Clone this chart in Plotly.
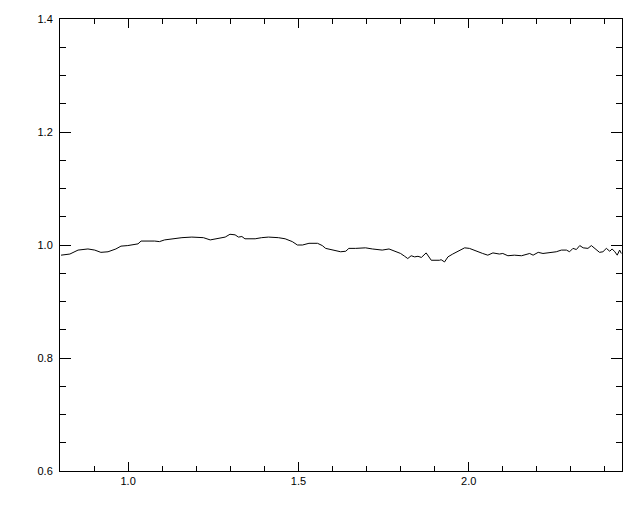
import plotly.graph_objects as go

x_vals = [0.803, 0.829, 0.853, 0.882, 0.902, 0.920, 0.941, 0.964, 0.979, 0.999,
          1.029, 1.038, 1.078, 1.092, 1.107, 1.131, 1.158, 1.187, 1.221, 1.241,
          1.260, 1.285, 1.299, 1.314, 1.324, 1.334, 1.343, 1.373, 1.392, 1.412,
          1.441, 1.461, 1.482, 1.497, 1.512, 1.531, 1.556, 1.570, 1.580, 1.604,
          1.624, 1.639, 1.648, 1.668, 1.697, 1.717, 1.746, 1.766, 1.785, 1.800,
          1.812, 1.821, 1.831, 1.841, 1.851, 1.861, 1.875, 1.883, 1.890, 1.914,
          1.919, 1.929, 1.939, 1.953, 1.973, 1.988, 2.002, 2.022, 2.041, 2.056,
          2.071, 2.090, 2.100, 2.115, 2.134, 2.155, 2.179, 2.189, 2.204, 2.218,
          2.238, 2.257, 2.272, 2.287, 2.296, 2.306, 2.316, 2.326, 2.336, 2.350,
          2.360, 2.375, 2.384, 2.394, 2.404, 2.414, 2.421, 2.429, 2.436, 2.443,
          2.448]
y_vals = [0.982, 0.984, 0.991, 0.993, 0.991, 0.987, 0.988, 0.993, 0.998, 0.999,
          1.002, 1.007, 1.007, 1.006, 1.009, 1.011, 1.013, 1.014, 1.013, 1.009,
          1.011, 1.014, 1.019, 1.018, 1.014, 1.015, 1.011, 1.011, 1.013, 1.014,
          1.013, 1.011, 1.006, 1.000, 1.000, 1.003, 1.003, 0.999, 0.994, 0.991,
          0.988, 0.989, 0.994, 0.994, 0.995, 0.993, 0.991, 0.993, 0.989, 0.985,
          0.980, 0.976, 0.981, 0.979, 0.980, 0.978, 0.986, 0.979, 0.973, 0.973,
          0.974, 0.970, 0.979, 0.984, 0.991, 0.995, 0.994, 0.989, 0.985, 0.982,
          0.986, 0.984, 0.985, 0.981, 0.982, 0.981, 0.985, 0.982, 0.987, 0.985,
          0.986, 0.988, 0.991, 0.991, 0.988, 0.994, 0.992, 0.999, 0.995, 0.994,
          0.999, 0.991, 0.987, 0.988, 0.994, 0.989, 0.993, 0.988, 0.982, 0.991,
          0.985]

x_range = [0.8, 2.45]
y_range = [0.6, 1.4]
x_tickvals = [1.0, 1.5, 2.0]
x_ticktext = ["1.0", "1.5", "2.0"]
y_tickvals = [0.6, 0.8, 1.0, 1.2, 1.4]
y_ticktext = ["0.6", "0.8", "1.0", "1.2", "1.4"]

fig = go.Figure()
fig.add_trace(go.Scatter(x=x_vals, y=y_vals, mode="lines",
                         line=dict(color="black", width=1), showlegend=False))

font = dict(family="Liberation Sans, Arial, sans-serif", size=11, color="black")

fig.update_layout(
    width=640, height=512,
    margin=dict(l=52, r=26, t=11, b=49),
    paper_bgcolor="white", plot_bgcolor="white",
    font=font,
)
fig.update_xaxes(
    range=x_range, tickmode="array", tickvals=x_tickvals, ticktext=x_ticktext,
    ticks="inside", ticklen=9, tickwidth=1, tickcolor="black",
    showline=True, linecolor="black", linewidth=1, mirror="allticks",
    showgrid=False, zeroline=False, automargin=False,
    minor=dict(dtick=0.1, tick0=0.8, ticks="inside", ticklen=5, tickcolor="black", tickwidth=1, showgrid=False),
    tickfont=font,
)
fig.update_yaxes(
    range=y_range, tickmode="array", tickvals=y_tickvals, ticktext=y_ticktext,
    ticks="inside", ticklen=11, tickwidth=1, tickcolor="black",
    showline=True, linecolor="black", linewidth=1, mirror="allticks",
    showgrid=False, zeroline=False, ticklabelstandoff=4, automargin=False,
    minor=dict(dtick=0.05, tick0=0.6, ticks="inside", ticklen=6, tickcolor="black", tickwidth=1, showgrid=False),
    tickfont=font,
)

fig.write_html("out.html")
